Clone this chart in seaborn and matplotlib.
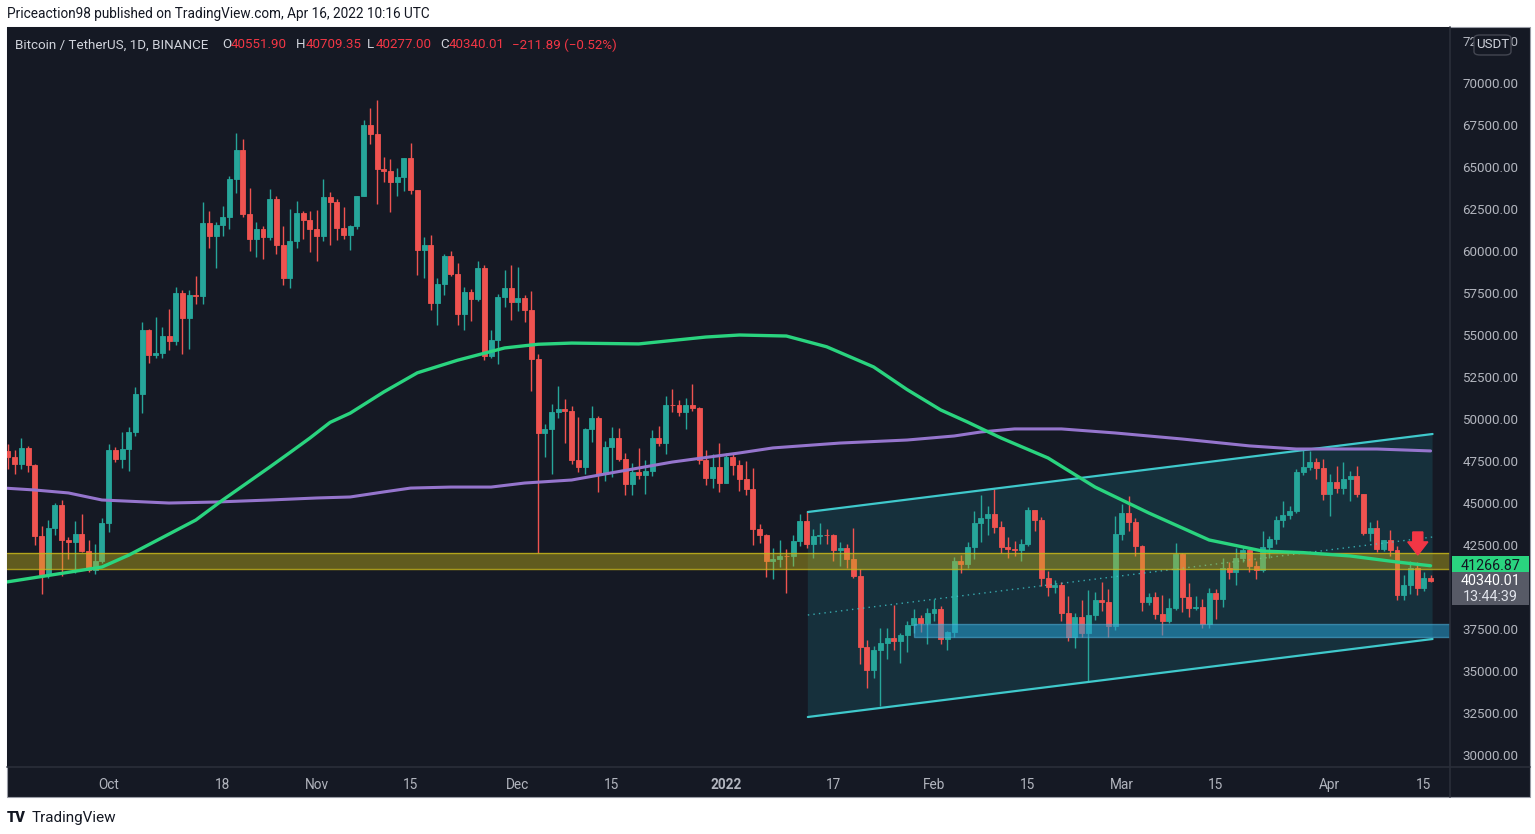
import numpy as np
import pandas as pd
import matplotlib
matplotlib.use("Agg")
import matplotlib.pyplot as plt
import matplotlib.transforms as mtransforms
from matplotlib.patches import Rectangle, Polygon, FancyArrow, FancyBboxPatch
from matplotlib.lines import Line2D
import seaborn as sns

# ---------------- data (BTC/USDT daily) ----------------
start_date = "2021-09-16"

opens = [48121, 47737, 47299, 48292, 47241, 43015, 40734, 43543, 44865, 42810, 42670, 43160, 42147, 41026, 41524,
         43824, 48141, 47634, 48200, 49224, 51471, 55315, 53785, 53951, 54949, 54659, 57471, 56005, 57367, 57347, 61672,
         60875, 61528, 62009, 64280, 66001, 62193, 60688, 61286, 60852, 63078, 60328, 58413, 60575, 62253, 61859,
         61299, 60911, 63219, 62896, 61395, 60937, 61470, 63273, 67525, 66947, 64882, 64774, 64122, 64380, 65519,
         63606, 60058, 60344, 56891, 58052, 59707, 58622, 56247, 57541, 57138, 58960, 53726, 54721, 57274, 57776,
         56950, 57184, 56480, 53601, 49152, 49397, 50441, 50588, 50471, 47545, 47140, 49389, 50053, 46702, 48343,
         48864, 47632, 46131, 46834, 46681, 46914, 48889, 48588, 50838, 50821, 50429, 50809, 50640, 47588, 46464, 47120,
         46216, 47722, 47286, 46446, 45832, 43451, 43082, 41566, 41679, 41864, 41822, 42729, 43902, 42560, 43059,
         43084, 43071, 42201, 42352, 41660, 40680, 36445, 35071, 36244, 36660, 36958, 36809, 37160, 37717, 38166, 37881,
         38466, 38690, 36896, 37311, 41574, 41382, 42380, 43840, 44118, 44338, 43565, 42407, 42244, 42197,
         42586, 44575, 43961, 40538, 40031, 40123, 38431, 37017, 38230, 37250, 38328, 39219, 39116, 37700,
         43160, 44421, 43892, 42454, 39137, 39400, 38420, 37988, 38730, 41941, 39422, 38730, 38807, 37777, 39671,
         39280, 41114, 40917, 41757, 42201, 41262, 41002, 42364, 42882, 43991, 44313, 44511, 46827, 47128, 47465, 47062,
         45538, 46281, 45868, 46453, 46622, 45555, 43206, 43503, 42287, 42782, 42207, 39521, 40127, 41147, 39942, 40551.90]

closes = [47737, 47299, 48292, 47241, 43015, 40734, 43543, 44865, 42810, 42670, 43160, 42147, 41026, 41524, 43824,
          48141, 47634, 48200, 49224, 51471, 55315, 53785, 53951, 54949, 54659, 57471, 56005, 57367, 57347, 61672, 60875,
          61528, 62009, 64280, 66001, 62193, 60688, 61286, 60852, 63078, 60328, 58413, 60575, 62253, 61859, 61299,
          60911, 63219, 62896, 61395, 60937, 61470, 63273, 67525, 66947, 64882, 64774, 64122, 64380, 65519, 63606,
          60058, 60344, 56891, 58052, 59707, 58622, 56247, 57541, 57138, 58960, 53726, 54721, 57274, 57776, 56950,
          57184, 56480, 53601, 49152, 49397, 50441, 50588, 50471, 47545, 47140, 49389, 50053, 46702, 48343, 48864,
          47632, 46131, 46834, 46681, 46914, 48889, 48588, 50838, 50821, 50429, 50809, 50640, 47588, 46464, 47120, 46216,
          47722, 47286, 46446, 45832, 43451, 43082, 41566, 41679, 41864, 41822, 42729, 43902, 42560, 43059, 43084,
          43071, 42201, 42352, 41660, 40680, 36445, 35071, 36244, 36660, 36958, 36809, 37160, 37717, 38166, 37881, 38466,
          38690, 36896, 37311, 41574, 41382, 42380, 43840, 44118, 44338, 43565, 42407, 42244, 42197, 42586,
          44575, 43961, 40538, 40031, 40123, 38431, 37017, 38230, 37250, 38328, 39219, 39116, 37700, 43160,
          44421, 43892, 42454, 39137, 39400, 38420, 37988, 38730, 41941, 39422, 38730, 38807, 37777, 39671, 39280,
          41114, 40917, 41757, 42201, 41262, 41002, 42364, 42882, 43991, 44313, 44511, 46827, 47128, 47465, 47062, 45538,
          46281, 45868, 46453, 46622, 45555, 43206, 43503, 42287, 42782, 42207, 39521, 40127, 41147, 39942, 40551, 40340.01]

highs = [48488, 48170, 48843, 48372, 47347, 43639, 44000, 44978, 45200, 42966, 43919, 44350, 42787, 42590, 44132,
         48495, 48336, 49228, 49536, 51886, 55750, 55332, 56100, 55489, 56561, 57839, 57680, 57700, 58532, 62933, 62378,
         61718, 62695, 64486, 67000, 66639, 63732, 61747, 61500, 63710, 63293, 61496, 62499, 62980, 62359, 62405,
         62437, 64270, 63500, 63086, 62595, 61560, 63286, 67789, 68525, 69000, 65600, 65460, 64915, 65550, 66401,
         63617, 60840, 60976, 58366, 59845, 60029, 59266, 57875, 57735, 59398, 59150, 55280, 57445, 58865, 59176,
         59053, 57375, 57600, 53859, 49699, 50891, 51936, 51200, 50797, 50099, 49485, 50777, 50189, 48700, 49500,
         49436, 47995, 47360, 48300, 47537, 49328, 49576, 51375, 51810, 51156, 51280, 52088, 50704, 48139, 47900, 48548,
         47954, 47990, 47570, 47505, 47070, 43748, 43145, 42300, 42786, 42248, 43100, 44322, 44500, 43448, 43800,
         43475, 43176, 42691, 42559, 43505, 41100, 36835, 36499, 37550, 37545, 38919, 37234, 38000, 38720, 38359, 38744,
         39265, 38855, 37387, 41772, 41913, 42656, 44500, 45492, 44799, 45821, 43920, 43000, 42760, 42876,
         44769, 44581, 44164, 40959, 40444, 40300, 39494, 38429, 39249, 39843, 39683, 40300, 39855, 44225,
         44949, 45400, 44102, 42527, 39666, 39693, 39547, 39362, 42594, 42039, 40236, 39486, 39310, 39947, 39887,
         41718, 41478, 42325, 42400, 42296, 41544, 43361, 43025, 44220, 45094, 44820, 46999, 48189, 48096, 47700, 47600,
         46720, 47213, 47444, 46890, 47200, 45555, 43900, 43970, 42800, 43410, 42414, 40700, 41561, 41500, 40900, 40709.35]

lows = [47000, 46750, 47047, 46829, 42500, 39600, 40565, 43069, 40675, 41646, 40848, 42098, 40888, 40753, 41410,
        43283, 47430, 47088, 46891, 49000, 50382, 53357, 53617, 53661, 54080, 54415, 53879, 54167, 56818, 56850, 60150,
        58963, 60888, 61322, 63481, 62000, 60000, 59668, 59510, 60650, 59817, 58000, 57820, 60174, 60723, 59945,
        59405, 60624, 60382, 60677, 60721, 60050, 61322, 63273, 66382, 62822, 64100, 62333, 63303, 63576, 63400,
        58574, 58373, 56474, 55579, 57353, 58486, 55610, 55317, 55837, 57000, 53500, 53610, 53256, 56666, 55875,
        56458, 55777, 51680, 42000, 47727, 46751, 50039, 48600, 47320, 46852, 46751, 48638, 45672, 46290, 46547,
        47511, 45456, 45500, 46406, 45558, 46630, 48421, 47920, 50400, 50171, 49412, 50449, 47313, 46096, 45900, 45678,
        46208, 46654, 45696, 45502, 42500, 42645, 40610, 40501, 41200, 39650, 41268, 42450, 42311, 41725, 42555,
        42581, 41540, 41250, 41138, 40553, 35440, 34008, 34601, 32917, 35705, 36234, 35507, 36155, 37268, 37351, 36632,
        38000, 36586, 36250, 37026, 40843, 41116, 41645, 42666, 43117, 43187, 42000, 41748, 41870, 41570,
        42427, 43310, 40073, 39450, 39639, 38000, 36800, 36350, 37036, 34322, 38014, 38600, 37000, 37450,
        42809, 43334, 41832, 38550, 38955, 38088, 37155, 37867, 38656, 38539, 38223, 38660, 37578, 37555, 38098,
        38828, 40500, 40135, 41499, 40911, 40467, 40875, 41751, 42560, 43579, 44072, 44421, 46663, 46950, 46445, 45200,
        44200, 45620, 45530, 45118, 45353, 43100, 42727, 42107, 42125, 41868, 39200, 39254, 39588, 39551, 39762, 40277.00]

# moving averages (day index from start_date, price)
ma100_days = [-1, 14, 18, 28, 32, 39, 42, 45, 48, 51, 56, 61, 67, 74, 79, 84, 94, 104, 109, 116, 122, 129,
              134, 139, 143, 148, 155, 162, 170, 179, 187, 193, 200, 207, 212]
ma100_vals = [40250, 41190, 41900, 43990, 45180, 47140, 48000, 48870, 49800, 50350, 51610, 52750, 53500, 54230,
              54450, 54520, 54470, 54880, 55000, 54940, 54300, 53100, 51750, 50540, 49820, 48870, 47680, 45950,
              44410, 42800, 42140, 42050, 41850, 41490, 41267]
ma200_days = [-1, 4, 9, 14, 24, 31, 39, 46, 51, 56, 60, 66, 72, 77, 84, 89, 99, 109, 114, 124, 134, 141,
              145, 150, 157, 165, 175, 185, 192, 204, 212]
ma200_vals = [45900, 45775, 45600, 45180, 45000, 45060, 45180, 45300, 45360, 45660, 45890, 45950, 45950, 46190,
              46370, 46730, 47440, 47980, 48280, 48570, 48750, 48990, 49230, 49410, 49410, 49170, 48810, 48400,
              48215, 48215, 48100]

# drawings: ascending channel, support/resistance zones
channel_days = [119.2, 212.3]
channel_upper = [44466, 49108]
channel_mid = [38335, 42978]
channel_lower = [32264, 36907]
yellow_zone = [41073, 42026]
blue_zone_start_day = 135
blue_zone = [37000, 37800]
arrow_day = 210.1
arrow_top, arrow_tip = 43276, 41907

price_ticks = list(range(30000, 72501, 2500))
hidden_tick = 40000  # covered by the last-price tag in the original
tick_dates = ["2021-10-01", "2021-10-18", "2021-11-01", "2021-11-15", "2021-12-01", "2021-12-15", "2022-01-01",
              "2022-01-17", "2022-02-01", "2022-02-15", "2022-03-01", "2022-03-15", "2022-04-01", "2022-04-15"]
tick_labels = ["Oct", "18", "Nov", "15", "Dec", "15", "2022", "17", "Feb", "15", "Mar", "15", "Apr", "15"]

ma100_last = 41266.87
last_close = 40340.01
countdown = "13:44:39"

# ---------------- style ----------------
BG = "#151924"
UP = "#26a69a"
DN = "#ef5350"
TXT = "#b2b5be"
GRN = "#2ad47f"
PUR = "#9575cd"
TEAL = "#3fc9cc"

sns.set_style("dark", {"axes.facecolor": BG, "figure.facecolor": "white"})
plt.rcParams["font.family"] = ["Roboto", "DejaVu Sans"]

W, H = 1535, 834
fig = plt.figure(figsize=(W / 100, H / 100), dpi=100, facecolor="white")


def fx(x):
    return x / W


def fy(y):
    return 1 - y / H


panel = Rectangle((fx(7), fy(797)), fx(1530) - fx(7), fy(27) - fy(797), transform=fig.transFigure,
                  facecolor=BG, edgecolor="#9a9da6", linewidth=0.8, zorder=-5)
fig.patches.append(panel)

ax = fig.add_axes([fx(7), fy(767), fx(1450) - fx(7), fy(27) - fy(767)])
ax.set_zorder(1)
ax.set_facecolor(BG)
for s in ax.spines.values():
    s.set_visible(False)
ax.grid(False)

o = np.array(opens, float)
c = np.array(closes, float)
h = np.array(highs, float)
l = np.array(lows, float)
x = np.arange(len(c))
up = c >= o
body_lo = np.minimum(o, c)
body_h = np.abs(c - o)

# channel fill + lines
cx0, cx1 = channel_days
ax.add_patch(Polygon([(cx0, channel_upper[0]), (cx1, channel_upper[1]), (cx1, channel_lower[1]),
                      (cx0, channel_lower[0])], closed=True, facecolor="#22c0d4", alpha=0.14,
                     edgecolor="none", zorder=1))
ax.plot(channel_days, channel_upper, color=TEAL, lw=1.6, zorder=4)
ax.plot(channel_days, channel_lower, color=TEAL, lw=1.6, zorder=4)
ax.plot(channel_days, channel_mid, color=TEAL, lw=1.0, ls=(0, (1, 3)), alpha=0.8, zorder=4)

# candles
for mask, col in ((up, UP), (~up, DN)):
    ax.vlines(x[mask], l[mask], h[mask], color=col, lw=1.0, zorder=3)
    ax.bar(x[mask], body_h[mask], bottom=body_lo[mask], width=0.74, color=col, edgecolor=col,
           linewidth=0.6, zorder=3)

# zones
ax.axhspan(yellow_zone[0], yellow_zone[1], facecolor="#c9b81a", alpha=0.42, edgecolor="none", zorder=4)
ax.axhline(yellow_zone[0], color="#c9b81a", lw=1, alpha=0.8, zorder=4)
ax.axhline(yellow_zone[1], color="#c9b81a", lw=1, alpha=0.8, zorder=4)
ax.add_patch(Rectangle((blue_zone_start_day, blue_zone[0]), 300, blue_zone[1] - blue_zone[0],
                       facecolor="#26a0d2", alpha=0.55, edgecolor="#4fb3de", lw=1, zorder=4))

# moving averages
sns.lineplot(x=ma200_days, y=ma200_vals, ax=ax, color=PUR, linewidth=2.2, estimator=None, sort=False, zorder=5)
sns.lineplot(x=ma100_days, y=ma100_vals, ax=ax, color=GRN, linewidth=2.4, estimator=None, sort=False, zorder=5)

# red arrow
ax.add_patch(FancyArrow(arrow_day, arrow_top, 0, arrow_tip - arrow_top, width=1.5, head_width=3.0,
                        head_length=780, length_includes_head=True, color="#f23645", zorder=6))

# axes scales
ax.set_xlim(-0.15, 214.9)
ax.set_ylim(29288, 73333)
ppx = (73333 - 29288) / 740.0

ax.yaxis.tick_right()
ax.set_yticks(price_ticks)
ax.set_yticklabels(["" if v == hidden_tick else f"{v:.2f}" for v in price_ticks])
ax.tick_params(axis="y", length=0, pad=9, labelsize=9.6, labelcolor=TXT)

d0 = pd.Timestamp(start_date)
tick_idx = [(pd.Timestamp(d) - d0).days for d in tick_dates]
ax.set_xticks(tick_idx)
ax.set_xticklabels(tick_labels)
ax.tick_params(axis="x", length=0, pad=8, labelsize=9.8, labelcolor=TXT)
for t in ax.get_xticklabels():
    if t.get_text() == "2022":
        t.set_fontweight("bold")
ax.set_xlabel("")
ax.set_ylabel("")

# separators
fig.lines.append(Line2D([fx(1450), fx(1450)], [fy(27), fy(797)], transform=fig.transFigure,
                        color="#2a2e39", lw=1.2, zorder=3))
fig.lines.append(Line2D([fx(7), fx(1530)], [fy(767), fy(767)], transform=fig.transFigure,
                        color="#2a2e39", lw=1.2, zorder=3))

# price tags on the axis
bt = mtransforms.blended_transform_factory(ax.transAxes, ax.transData)
x0t, wt = 1.0014, 0.0534
ax.add_patch(Rectangle((x0t, ma100_last - 9.5 * ppx), wt, 19 * ppx, transform=bt, facecolor=GRN,
                       edgecolor="none", clip_on=False, zorder=7))
ax.text(x0t + wt / 2, ma100_last, f"{ma100_last:.2f}", transform=bt, ha="center", va="center",
        fontsize=10.3, color="#131722", zorder=8, clip_on=False)
ax.add_patch(Rectangle((x0t, last_close - 24 * ppx), wt, 33 * ppx, transform=bt, facecolor="#575a66",
                       edgecolor="none", clip_on=False, zorder=7))
ax.text(x0t + wt / 2, last_close, f"{last_close:.2f}", transform=bt, ha="center", va="center",
        fontsize=10.3, color="white", zorder=8, clip_on=False)
ax.text(x0t + wt / 2, last_close - 16 * ppx, countdown, transform=bt, ha="center", va="center",
        fontsize=10.3, color="#e0e3eb", zorder=8, clip_on=False)

# USDT box (covers the top price label like the original)
ub = FancyBboxPatch((fx(1474), fy(55)), fx(1511) - fx(1474), fy(35) - fy(55), transform=fig.transFigure,
                    boxstyle="round,pad=0,rounding_size=0.004", facecolor=BG, edgecolor="#434651", lw=1,
                    zorder=10)
fig.patches.append(ub)
fig.text(fx(1492.5), fy(45), "USDT", ha="center", va="center", fontsize=9.5, color="#d1d4dc", zorder=11)

# header / title / footer
fig.text(fx(7), fy(14), "Priceaction98 published on TradingView.com, Apr 16, 2022 10:16 UTC",
         ha="left", va="center", fontsize=9.8, color="#131722")
RED = "#f23645"
TT = "#d1d4dc"
pieces = [(15, "Bitcoin / TetherUS, 1D, BINANCE", TT), (222, "O", TT), (231, "40551.90", RED),
          (296, "H", TT), (306, "40709.35", RED), (367, "L", TT), (376, "40277.00", RED),
          (440, "C", TT), (449, "40340.01", RED), (512, "\u2212211.89 (\u22120.52%)", RED)]
for px_, s, col in pieces:
    fig.text(fx(px_), fy(45), s, ha="left", va="center", fontsize=9.6, color=col, zorder=5)

fig.text(fx(7), fy(818), "TV", ha="left", va="center", fontsize=10.5, fontweight="heavy", color="#131722")
fig.text(fx(32), fy(818), "TradingView", ha="left", va="center", fontsize=11, color="#131722")

fig.savefig("out.png", dpi=100, facecolor="white")
